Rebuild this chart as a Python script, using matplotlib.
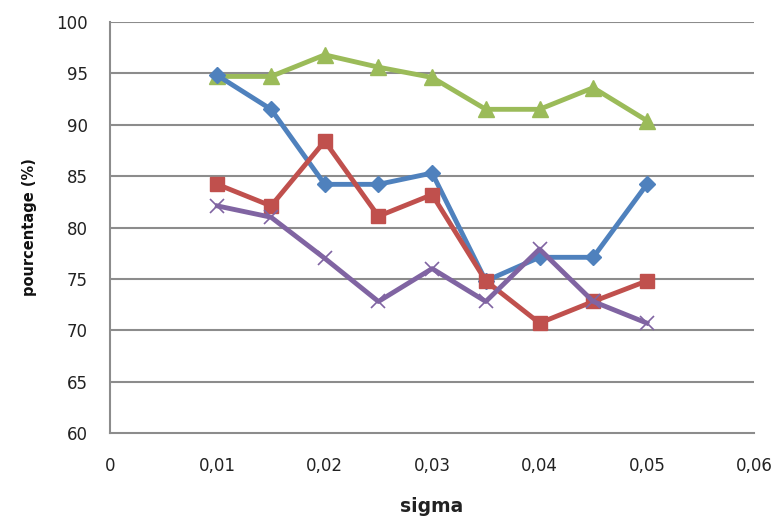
import matplotlib
matplotlib.use("Agg")
import matplotlib.pyplot as plt
from matplotlib.ticker import FuncFormatter

sigma = [0.01, 0.015, 0.02, 0.025, 0.03, 0.035, 0.04, 0.045, 0.05]
serie_bleue = [94.8, 91.5, 84.2, 84.2, 85.3, 74.8, 77.1, 77.1, 84.2]
serie_rouge = [84.2, 82.1, 88.4, 81.1, 83.2, 74.8, 70.7, 72.8, 74.8]
serie_verte = [94.7, 94.7, 96.8, 95.6, 94.6, 91.5, 91.5, 93.6, 90.4]
serie_violette = [82.1, 81.0, 77.0, 72.8, 76.0, 72.8, 77.9, 72.8, 70.7]

x_ticks = [0, 0.01, 0.02, 0.03, 0.04, 0.05, 0.06]
y_ticks = [60, 65, 70, 75, 80, 85, 90, 95, 100]

fig = plt.figure(figsize=(7.8, 5.23), dpi=100)
ax = fig.add_axes([0.141, 0.172, 0.826, 0.786])

grid_col = "#8c8c8c"
for y in y_ticks[1:]:
    ax.axhline(y, color=grid_col, lw=1.5, zorder=1)

styles = [
    (serie_verte, "#9BBB59", "^", 11, {}),
    (serie_bleue, "#4F81BD", "D", 8, {}),
    (serie_rouge, "#C0504D", "s", 10, {}),
    (serie_violette, "#8064A2", "x", 10, {"markeredgewidth": 1.2}),
]
for vals, col, mk, ms, extra in styles:
    ax.plot(sigma, vals, color=col, lw=3.5, marker=mk, markersize=ms,
            markerfacecolor=col, markeredgecolor=col, zorder=3, **extra)

ax.set_xlim(0, 0.06)
ax.set_ylim(60, 100)
ax.set_xticks(x_ticks)
ax.set_yticks(y_ticks)
ax.xaxis.set_major_formatter(FuncFormatter(lambda v, p: "0" if v == 0 else f"{v:.2f}".replace(".", ",")))
ax.tick_params(axis="both", length=0, labelsize=12, labelcolor="#222222")
ax.tick_params(axis="x", pad=17)
ax.tick_params(axis="y", pad=16)

for s in ["top", "right"]:
    ax.spines[s].set_visible(False)
for s in ["left", "bottom"]:
    ax.spines[s].set_color(grid_col)
    ax.spines[s].set_linewidth(1.5)

ax.set_xlabel("sigma", fontsize=13.5, fontweight="bold", color="#222222", labelpad=16)
ax.set_ylabel("pourcentage (%)", fontsize=10.5, fontweight="bold", color="#111111", labelpad=14)

fig.savefig("out.png", dpi=100)
